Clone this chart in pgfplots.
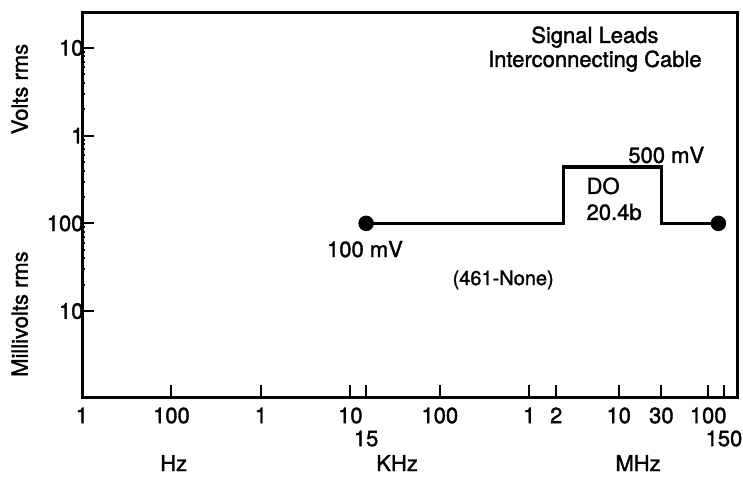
\documentclass[border=0pt]{standalone}
\usepackage{pgfplots}
\pgfplotsset{compat=1.18}
\usepackage{fontspec}
\setmainfont{TeX Gyre Heros}[FakeBold=1.5]
\begin{document}
\begin{tikzpicture}[x=1pt,y=1pt]
\useasboundingbox (0,0) rectangle (743,476);
\begin{axis}[
  at={(82pt,79pt)}, anchor=south west,
  scale only axis, width=655pt, height=384pt,
  xmode=log, ymode=log,
  xmin=10, xmax=2.1e8, ymin=1.05e-3, ymax=25,
  clip=false,
  font=\fontsize{22}{24}\selectfont,
  axis line style={line width=3pt},
  xtick pos=left, ytick pos=left,
  tick align=inside,
  major tick length=12pt,
  minor tick num=0,
  every tick/.style={black, line width=2pt},
  xtick={10,100,1000,1e4,1e5,1e6,2e6,1e7,3e7,1e8},
  xticklabels={1,100,1,10,100,1,2,10,30,100},
  extra x ticks={15000,1.5e8},
  extra x tick labels={15,150},
  extra x tick style={xticklabel style={yshift=-23pt}},
  xticklabel style={yshift=-7pt},
  ytick={0.01,0.1,1,10},
  yticklabels={10,100,1,10},
  yticklabel style={xshift=5pt},
]
\addplot[black, line width=3.5pt, mark=*, mark size=6pt, mark indices={1,6}]
  coordinates {(15000,0.1) (2.4e6,0.1) (2.4e6,0.44) (3e7,0.44) (3e7,0.1) (1.3e8,0.1)};

\node[align=center] at (rel axis cs:0.783,0.906) {Signal Leads\\Interconnecting Cable};
\node at (rel axis cs:0.892,0.630) {500 mV};
\node[align=left, anchor=west] at (rel axis cs:0.765,0.516) {DO\\[2pt]20.4b};
\node at (rel axis cs:0.432,0.385) {100 mV};
\node[font=\fontsize{20}{22}\selectfont] at (rel axis cs:0.643,0.305) {(461-None)};
\node[inner sep=0pt] at (rel axis cs:0.140,-0.172) {Hz};
\node[inner sep=0pt] at (rel axis cs:0.481,-0.172) {KHz};
\node[inner sep=0pt] at (rel axis cs:0.849,-0.172) {MHz};
\node[rotate=90] at (rel axis cs:-0.095,0.802) {Volts rms};
\node[rotate=90] at (rel axis cs:-0.095,0.216) {Millivolts rms};
\end{axis}
\end{tikzpicture}
\end{document}
